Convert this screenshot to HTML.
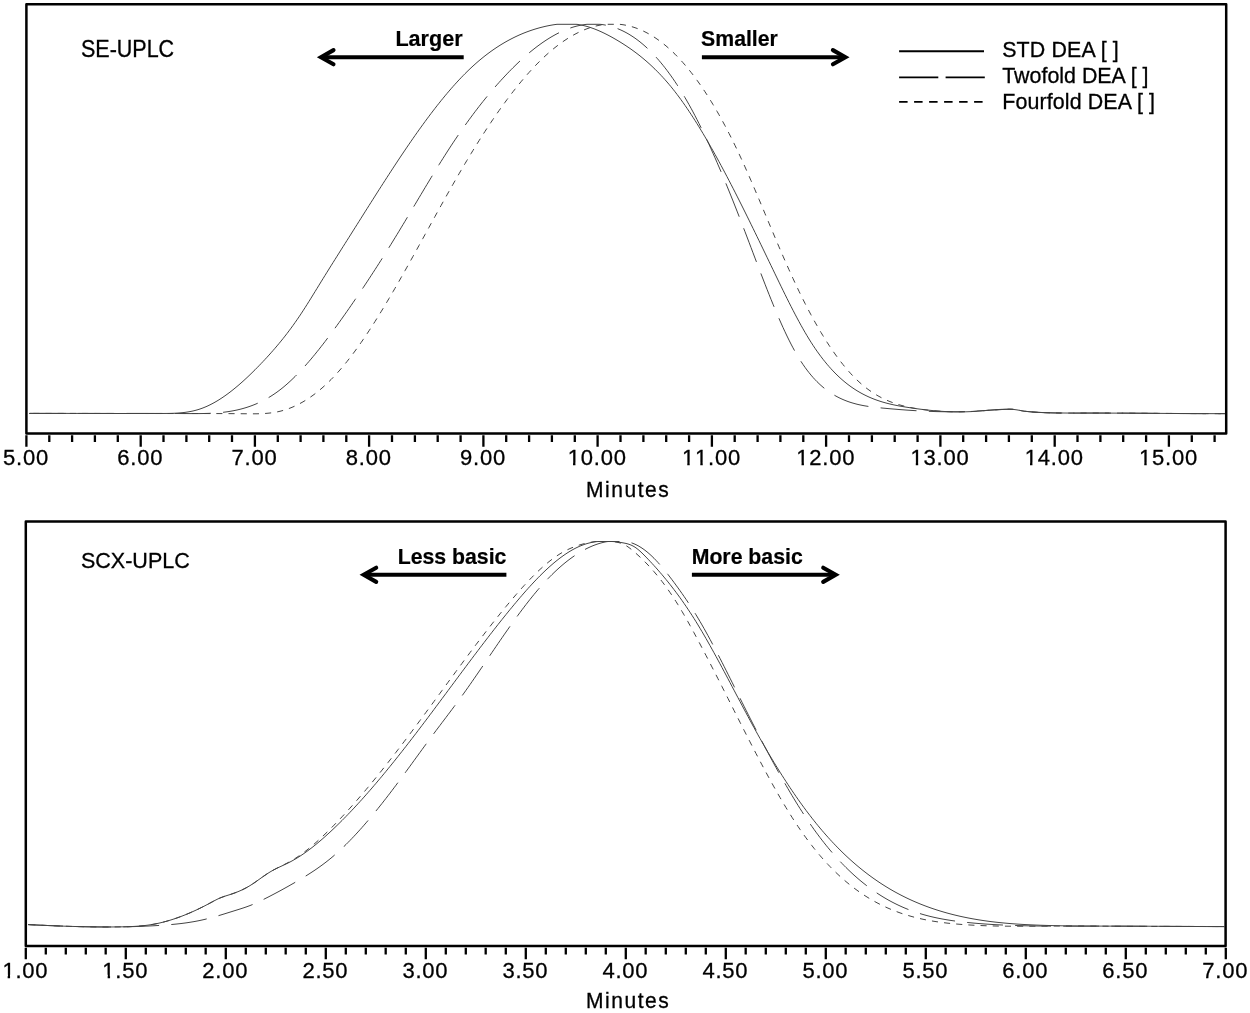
<!DOCTYPE html>
<html lang="en">
<head>
<meta charset="utf-8">
<title>SE-UPLC and SCX-UPLC chromatograms</title>
<style>
html,body{margin:0;padding:0;background:#fff}
body{width:1250px;height:1013px;overflow:hidden}
svg{display:block}
</style>
</head>
<body>
<svg width="1250" height="1013" viewBox="0 0 1250 1013">
<style>
text{font-family:"Liberation Sans",sans-serif;fill:#000}
.box{fill:none;stroke:#000;stroke-width:2.5;stroke-linejoin:round}
.tk{fill:none;stroke:#000;stroke-width:2.3}
.tl text{font-size:22px;font-kerning:none;text-anchor:middle;letter-spacing:.8px;stroke:#000;stroke-width:.3px}
.ax{font-size:21px;text-anchor:middle;letter-spacing:1.55px;stroke:#000;stroke-width:.3px}
.lb{font-size:21.5px;stroke:#000;stroke-width:.3px}
.lg{font-size:21.4px;stroke:#000;stroke-width:.3px;letter-spacing:.12px}
.b{font-size:21.6px;font-weight:bold;stroke:#000;stroke-width:.2px}
.b2{font-size:21.25px}
.c{fill:none;stroke:#444;stroke-width:1}
.ll{fill:none;stroke:#000;stroke-width:1.9}
.ar{fill:none;stroke:#000;stroke-width:4.1}
.ah{fill:none;stroke:#000;stroke-width:4.1;stroke-linecap:round;stroke-linejoin:miter}
</style>
<rect width="1250" height="1013" fill="#fff"/>
<g id="top">
<rect class="box" x="26.4" y="4.3" width="1199.8" height="429.2"/>
<path class="tk" d="M26.4 435.3V446.7M140.7 435.3V446.7M254.9 435.3V446.7M369.1 435.3V446.7M483.4 435.3V446.7M597.6 435.3V446.7M711.9 435.3V446.7M826.1 435.3V446.7M940.4 435.3V446.7M1054.7 435.3V446.7M1168.9 435.3V446.7"/>
<path class="tk" d="M49.3 435.3V442M72.1 435.3V442M94.9 435.3V442M117.8 435.3V442M163.5 435.3V442M186.4 435.3V442M209.2 435.3V442M232.0 435.3V442M277.8 435.3V442M300.6 435.3V442M323.4 435.3V442M346.3 435.3V442M392.0 435.3V442M414.9 435.3V442M437.7 435.3V442M460.6 435.3V442M506.2 435.3V442M529.1 435.3V442M551.9 435.3V442M574.8 435.3V442M620.5 435.3V442M643.4 435.3V442M666.2 435.3V442M689.1 435.3V442M734.7 435.3V442M757.6 435.3V442M780.4 435.3V442M803.3 435.3V442M849.0 435.3V442M871.9 435.3V442M894.7 435.3V442M917.6 435.3V442M963.2 435.3V442M986.1 435.3V442M1008.9 435.3V442M1031.8 435.3V442M1077.5 435.3V442M1100.4 435.3V442M1123.2 435.3V442M1146.1 435.3V442M1191.8 435.3V442M1214.6 435.3V442"/>
<g class="tl"><text transform="translate(26.0 465.4) scale(1 1.04)">5.00</text><text transform="translate(140.2 465.4) scale(1 1.04)">6.00</text><text transform="translate(254.5 465.4) scale(1 1.04)">7.00</text><text transform="translate(368.8 465.4) scale(1 1.04)">8.00</text><text transform="translate(483.0 465.4) scale(1 1.04)">9.00</text><text transform="translate(597.2 465.4) scale(1 1.04)">10.00</text><text transform="translate(711.5 465.4) scale(1 1.04)">11.00</text><text transform="translate(825.8 465.4) scale(1 1.04)">12.00</text><text transform="translate(940.0 465.4) scale(1 1.04)">13.00</text><text transform="translate(1054.2 465.4) scale(1 1.04)">14.00</text><text transform="translate(1168.5 465.4) scale(1 1.04)">15.00</text></g>
<path fill="#fff" d="M567.92 462.70H573.02V467.80H567.92ZM575.44 462.70H580.12V467.80H575.44ZM682.17 462.70H687.27V467.80H682.17ZM689.69 462.70H694.37V467.80H689.69ZM695.21 462.70H700.31V467.80H695.21ZM702.73 462.70H707.41V467.80H702.73ZM796.42 462.70H801.52V467.80H796.42ZM803.94 462.70H808.62V467.80H803.94ZM910.67 462.70H915.77V467.80H910.67ZM918.19 462.70H922.87V467.80H918.19ZM1024.92 462.70H1030.02V467.80H1024.92ZM1032.44 462.70H1037.12V467.80H1032.44ZM1139.17 462.70H1144.27V467.80H1139.17ZM1146.69 462.70H1151.37V467.80H1146.69Z"/>
<text class="ax" transform="translate(628.2 497.3) scale(1 1.04)">Minutes</text>
<path class="c" d="M29.0 413.43 L31.0 413.42 L33.0 413.42 L35.0 413.41 L37.0 413.41 L39.0 413.41 L41.0 413.40 L43.0 413.40 L45.0 413.40 L47.0 413.40 L49.0 413.40 L51.0 413.39 L53.0 413.39 L55.0 413.39 L57.0 413.40 L59.0 413.40 L61.0 413.40 L63.0 413.40 L65.0 413.40 L67.0 413.40 L69.0 413.41 L71.0 413.41 L73.0 413.41 L75.0 413.41 L77.0 413.42 L79.0 413.42 L81.0 413.43 L83.0 413.43 L85.0 413.43 L87.0 413.44 L89.0 413.44 L91.0 413.45 L93.0 413.45 L95.0 413.45 L97.0 413.46 L99.0 413.46 L101.0 413.47 L103.0 413.47 L105.0 413.47 L107.0 413.48 L109.0 413.48 L111.0 413.49 L113.0 413.49 L115.0 413.49 L117.0 413.50 L119.0 413.50 L121.0 413.50 L123.0 413.50 L125.0 413.51 L127.0 413.51 L129.0 413.51 L131.0 413.51 L133.0 413.51 L135.0 413.51 L137.0 413.51 L139.0 413.51 L141.0 413.51 L143.0 413.51 L145.0 413.51 L147.0 413.51 L149.0 413.51 L151.0 413.50 L153.0 413.50 L155.0 413.50 L157.0 413.49 L159.0 413.49 L161.0 413.48 L163.0 413.47 L165.0 413.46 L167.0 413.44 L169.0 413.41 L171.0 413.37 L173.0 413.31 L175.0 413.23 L177.0 413.12 L179.0 412.98 L181.0 412.81 L183.0 412.61 L185.0 412.37 L187.0 412.09 L189.0 411.76 L191.0 411.39 L193.0 410.96 L195.0 410.47 L197.0 409.93 L199.0 409.33 L201.0 408.65 L203.0 407.92 L205.0 407.11 L207.0 406.25 L209.0 405.32 L211.0 404.32 L213.0 403.27 L215.0 402.16 L217.0 401.00 L219.0 399.77 L221.0 398.49 L223.0 397.16 L225.0 395.78 L227.0 394.35 L229.0 392.87 L231.0 391.34 L233.0 389.76 L235.0 388.14 L237.0 386.48 L239.0 384.78 L241.0 383.03 L243.0 381.25 L245.0 379.42 L247.0 377.57 L249.0 375.67 L251.0 373.74 L253.0 371.78 L255.0 369.79 L257.0 367.77 L259.0 365.72 L261.0 363.65 L263.0 361.55 L265.0 359.42 L267.0 357.25 L269.0 355.06 L271.0 352.83 L273.0 350.56 L275.0 348.26 L277.0 345.91 L279.0 343.52 L281.0 341.09 L283.0 338.61 L285.0 336.08 L287.0 333.50 L289.0 330.87 L291.0 328.18 L293.0 325.44 L295.0 322.64 L297.0 319.77 L299.0 316.85 L301.0 313.86 L303.0 310.81 L305.0 307.71 L307.0 304.56 L309.0 301.37 L311.0 298.16 L313.0 294.92 L315.0 291.67 L317.0 288.41 L319.0 285.15 L321.0 281.90 L323.0 278.66 L325.0 275.43 L327.0 272.21 L329.0 269.01 L331.0 265.81 L333.0 262.62 L335.0 259.43 L337.0 256.25 L339.0 253.08 L341.0 249.91 L343.0 246.74 L345.0 243.58 L347.0 240.41 L349.0 237.25 L351.0 234.09 L353.0 230.92 L355.0 227.75 L357.0 224.58 L359.0 221.41 L361.0 218.24 L363.0 215.06 L365.0 211.89 L367.0 208.73 L369.0 205.56 L371.0 202.40 L373.0 199.24 L375.0 196.09 L377.0 192.95 L379.0 189.81 L381.0 186.69 L383.0 183.57 L385.0 180.46 L387.0 177.36 L389.0 174.27 L391.0 171.19 L393.0 168.13 L395.0 165.08 L397.0 162.05 L399.0 159.03 L401.0 156.03 L403.0 153.05 L405.0 150.08 L407.0 147.14 L409.0 144.21 L411.0 141.30 L413.0 138.42 L415.0 135.56 L417.0 132.72 L419.0 129.90 L421.0 127.11 L423.0 124.35 L425.0 121.61 L427.0 118.90 L429.0 116.21 L431.0 113.56 L433.0 110.94 L435.0 108.34 L437.0 105.78 L439.0 103.25 L441.0 100.76 L443.0 98.29 L445.0 95.87 L447.0 93.48 L449.0 91.12 L451.0 88.80 L453.0 86.52 L455.0 84.28 L457.0 82.08 L459.0 79.92 L461.0 77.80 L463.0 75.73 L465.0 73.70 L467.0 71.71 L469.0 69.76 L471.0 67.87 L473.0 66.01 L475.0 64.21 L477.0 62.44 L479.0 60.73 L481.0 59.06 L483.0 57.43 L485.0 55.84 L487.0 54.30 L489.0 52.80 L491.0 51.34 L493.0 49.93 L495.0 48.55 L497.0 47.22 L499.0 45.93 L501.0 44.67 L503.0 43.46 L505.0 42.29 L507.0 41.15 L509.0 40.06 L511.0 39.00 L513.0 37.98 L515.0 36.99 L517.0 36.05 L519.0 35.14 L521.0 34.26 L523.0 33.42 L525.0 32.62 L527.0 31.85 L529.0 31.12 L531.0 30.42 L533.0 29.75 L535.0 29.12 L537.0 28.52 L539.0 27.95 L541.0 27.41 L543.0 26.91 L545.0 26.43 L547.0 25.99 L549.0 25.58 L551.0 25.21 L553.0 24.87 L555.0 24.57 L557.0 24.31 L559.0 24.30 L561.0 24.30 L563.0 24.30 L565.0 24.30 L567.0 24.30 L569.0 24.30 L571.0 24.30 L573.0 24.30 L575.0 24.30 L577.0 24.34 L579.0 24.65 L581.0 25.01 L583.0 25.43 L585.0 25.92 L587.0 26.46 L589.0 27.06 L591.0 27.71 L593.0 28.41 L595.0 29.16 L597.0 29.96 L599.0 30.81 L601.0 31.70 L603.0 32.63 L605.0 33.60 L607.0 34.61 L609.0 35.65 L611.0 36.73 L613.0 37.84 L615.0 38.98 L617.0 40.15 L619.0 41.35 L621.0 42.57 L623.0 43.83 L625.0 45.12 L627.0 46.44 L629.0 47.79 L631.0 49.18 L633.0 50.61 L635.0 52.08 L637.0 53.59 L639.0 55.14 L641.0 56.73 L643.0 58.37 L645.0 60.05 L647.0 61.78 L649.0 63.56 L651.0 65.39 L653.0 67.27 L655.0 69.20 L657.0 71.19 L659.0 73.23 L661.0 75.33 L663.0 77.49 L665.0 79.71 L667.0 81.99 L669.0 84.33 L671.0 86.73 L673.0 89.20 L675.0 91.74 L677.0 94.34 L679.0 97.00 L681.0 99.73 L683.0 102.52 L685.0 105.37 L687.0 108.28 L689.0 111.24 L691.0 114.26 L693.0 117.34 L695.0 120.47 L697.0 123.65 L699.0 126.88 L701.0 130.16 L703.0 133.48 L705.0 136.86 L707.0 140.28 L709.0 143.74 L711.0 147.25 L713.0 150.79 L715.0 154.38 L717.0 158.01 L719.0 161.67 L721.0 165.37 L723.0 169.10 L725.0 172.86 L727.0 176.66 L729.0 180.49 L731.0 184.35 L733.0 188.23 L735.0 192.14 L737.0 196.08 L739.0 200.04 L741.0 204.02 L743.0 208.02 L745.0 212.04 L747.0 216.08 L749.0 220.14 L751.0 224.22 L753.0 228.30 L755.0 232.40 L757.0 236.52 L759.0 240.64 L761.0 244.77 L763.0 248.91 L765.0 253.06 L767.0 257.21 L769.0 261.36 L771.0 265.52 L773.0 269.67 L775.0 273.83 L777.0 277.98 L779.0 282.12 L781.0 286.24 L783.0 290.34 L785.0 294.41 L787.0 298.44 L789.0 302.44 L791.0 306.39 L793.0 310.29 L795.0 314.14 L797.0 317.92 L799.0 321.64 L801.0 325.28 L803.0 328.84 L805.0 332.32 L807.0 335.71 L809.0 339.01 L811.0 342.20 L813.0 345.29 L815.0 348.29 L817.0 351.18 L819.0 353.97 L821.0 356.67 L823.0 359.27 L825.0 361.78 L827.0 364.20 L829.0 366.53 L831.0 368.77 L833.0 370.93 L835.0 373.00 L837.0 374.99 L839.0 376.90 L841.0 378.73 L843.0 380.48 L845.0 382.16 L847.0 383.76 L849.0 385.29 L851.0 386.75 L853.0 388.14 L855.0 389.46 L857.0 390.72 L859.0 391.92 L861.0 393.05 L863.0 394.13 L865.0 395.15 L867.0 396.12 L869.0 397.04 L871.0 397.90 L873.0 398.72 L875.0 399.49 L877.0 400.22 L879.0 400.90 L881.0 401.55 L883.0 402.16 L885.0 402.73 L887.0 403.27 L889.0 403.78 L891.0 404.26 L893.0 404.71 L895.0 405.14 L897.0 405.54 L899.0 405.92 L901.0 406.29 L903.0 406.63 L905.0 406.96 L907.0 407.28 L909.0 407.59 L911.0 407.89 L913.0 408.19 L915.0 408.47 L917.0 408.75 L919.0 409.02 L921.0 409.27 L923.0 409.52 L925.0 409.76 L927.0 409.99 L929.0 410.21 L931.0 410.41 L933.0 410.61 L935.0 410.79 L937.0 410.96 L939.0 411.12 L941.0 411.27 L943.0 411.40 L945.0 411.52 L947.0 411.62 L949.0 411.71 L951.0 411.78 L953.0 411.84 L955.0 411.88 L957.0 411.91 L959.0 411.92 L961.0 411.91 L963.0 411.89 L965.0 411.84 L967.0 411.78 L969.0 411.70 L971.0 411.61 L973.0 411.49 L975.0 411.36 L977.0 411.21 L979.0 411.06 L981.0 410.90 L983.0 410.73 L985.0 410.56 L987.0 410.39 L989.0 410.22 L991.0 410.05 L993.0 409.90 L995.0 409.75 L997.0 409.61 L999.0 409.49 L1001.0 409.39 L1003.0 409.30 L1005.0 409.24 L1007.0 409.20 L1009.0 409.21 L1011.0 409.26 L1013.0 409.39 L1015.0 409.61 L1017.0 409.90 L1019.0 410.24 L1021.0 410.60 L1023.0 410.95 L1025.0 411.25 L1027.0 411.51 L1029.0 411.72 L1031.0 411.90 L1033.0 412.06 L1035.0 412.18 L1037.0 412.29 L1039.0 412.38 L1041.0 412.46 L1043.0 412.54 L1045.0 412.61 L1047.0 412.68 L1049.0 412.73 L1051.0 412.79 L1053.0 412.83 L1055.0 412.88 L1057.0 412.91 L1059.0 412.95 L1061.0 412.97 L1063.0 413.00 L1065.0 413.02 L1067.0 413.04 L1069.0 413.05 L1071.0 413.07 L1073.0 413.07 L1075.0 413.08 L1077.0 413.09 L1079.0 413.09 L1081.0 413.09 L1083.0 413.09 L1085.0 413.09 L1087.0 413.09 L1089.0 413.09 L1091.0 413.09 L1093.0 413.09 L1095.0 413.09 L1097.0 413.09 L1099.0 413.09 L1101.0 413.09 L1103.0 413.09 L1105.0 413.10 L1107.0 413.10 L1109.0 413.10 L1111.0 413.11 L1113.0 413.12 L1115.0 413.12 L1117.0 413.13 L1119.0 413.14 L1121.0 413.15 L1123.0 413.15 L1125.0 413.16 L1127.0 413.17 L1129.0 413.18 L1131.0 413.19 L1133.0 413.21 L1135.0 413.22 L1137.0 413.23 L1139.0 413.24 L1141.0 413.25 L1143.0 413.27 L1145.0 413.28 L1147.0 413.29 L1149.0 413.30 L1151.0 413.32 L1153.0 413.33 L1155.0 413.35 L1157.0 413.36 L1159.0 413.37 L1161.0 413.39 L1163.0 413.40 L1165.0 413.41 L1167.0 413.43 L1169.0 413.44 L1171.0 413.45 L1173.0 413.47 L1175.0 413.48 L1177.0 413.49 L1179.0 413.50 L1181.0 413.52 L1183.0 413.53 L1185.0 413.54 L1187.0 413.55 L1189.0 413.56 L1191.0 413.57 L1193.0 413.58 L1195.0 413.59 L1197.0 413.60 L1199.0 413.61 L1201.0 413.62 L1203.0 413.62 L1205.0 413.63 L1207.0 413.64 L1209.0 413.64 L1211.0 413.65 L1213.0 413.65 L1215.0 413.66 L1217.0 413.66 L1219.0 413.66 L1221.0 413.66 L1223.0 413.66 L1225.0 413.66"/>
<path class="c" stroke-dasharray="36.0 12.3" stroke-dashoffset="47.4" d="M29.0 413.36 L31.0 413.37 L33.0 413.38 L35.0 413.39 L37.0 413.40 L39.0 413.40 L41.0 413.41 L43.0 413.42 L45.0 413.42 L47.0 413.43 L49.0 413.43 L51.0 413.44 L53.0 413.44 L55.0 413.44 L57.0 413.45 L59.0 413.45 L61.0 413.45 L63.0 413.45 L65.0 413.45 L67.0 413.45 L69.0 413.46 L71.0 413.46 L73.0 413.46 L75.0 413.46 L77.0 413.46 L79.0 413.46 L81.0 413.45 L83.0 413.45 L85.0 413.45 L87.0 413.45 L89.0 413.45 L91.0 413.45 L93.0 413.45 L95.0 413.44 L97.0 413.44 L99.0 413.44 L101.0 413.44 L103.0 413.44 L105.0 413.44 L107.0 413.43 L109.0 413.43 L111.0 413.43 L113.0 413.43 L115.0 413.43 L117.0 413.43 L119.0 413.42 L121.0 413.42 L123.0 413.42 L125.0 413.42 L127.0 413.42 L129.0 413.42 L131.0 413.42 L133.0 413.42 L135.0 413.42 L137.0 413.42 L139.0 413.42 L141.0 413.42 L143.0 413.42 L145.0 413.42 L147.0 413.42 L149.0 413.43 L151.0 413.43 L153.0 413.43 L155.0 413.44 L157.0 413.44 L159.0 413.44 L161.0 413.45 L163.0 413.46 L165.0 413.46 L167.0 413.47 L169.0 413.47 L171.0 413.48 L173.0 413.49 L175.0 413.50 L177.0 413.51 L179.0 413.52 L181.0 413.53 L183.0 413.54 L185.0 413.55 L187.0 413.56 L189.0 413.58 L191.0 413.59 L193.0 413.59 L195.0 413.59 L197.0 413.59 L199.0 413.58 L201.0 413.55 L203.0 413.52 L205.0 413.48 L207.0 413.42 L209.0 413.35 L211.0 413.26 L213.0 413.15 L215.0 413.03 L217.0 412.88 L219.0 412.71 L221.0 412.52 L223.0 412.31 L225.0 412.07 L227.0 411.80 L229.0 411.50 L231.0 411.17 L233.0 410.81 L235.0 410.42 L237.0 410.00 L239.0 409.53 L241.0 409.04 L243.0 408.50 L245.0 407.92 L247.0 407.30 L249.0 406.64 L251.0 405.93 L253.0 405.18 L255.0 404.38 L257.0 403.53 L259.0 402.63 L261.0 401.69 L263.0 400.69 L265.0 399.63 L267.0 398.52 L269.0 397.35 L271.0 396.13 L273.0 394.84 L275.0 393.49 L277.0 392.08 L279.0 390.61 L281.0 389.07 L283.0 387.47 L285.0 385.80 L287.0 384.07 L289.0 382.28 L291.0 380.44 L293.0 378.53 L295.0 376.57 L297.0 374.56 L299.0 372.49 L301.0 370.37 L303.0 368.20 L305.0 365.99 L307.0 363.73 L309.0 361.42 L311.0 359.08 L313.0 356.69 L315.0 354.26 L317.0 351.79 L319.0 349.29 L321.0 346.75 L323.0 344.18 L325.0 341.58 L327.0 338.95 L329.0 336.29 L331.0 333.60 L333.0 330.89 L335.0 328.16 L337.0 325.40 L339.0 322.62 L341.0 319.83 L343.0 317.01 L345.0 314.18 L347.0 311.33 L349.0 308.47 L351.0 305.58 L353.0 302.68 L355.0 299.76 L357.0 296.82 L359.0 293.87 L361.0 290.90 L363.0 287.91 L365.0 284.90 L367.0 281.88 L369.0 278.84 L371.0 275.78 L373.0 272.70 L375.0 269.61 L377.0 266.50 L379.0 263.38 L381.0 260.24 L383.0 257.08 L385.0 253.90 L387.0 250.71 L389.0 247.50 L391.0 244.27 L393.0 241.03 L395.0 237.78 L397.0 234.50 L399.0 231.21 L401.0 227.90 L403.0 224.58 L405.0 221.25 L407.0 217.91 L409.0 214.57 L411.0 211.21 L413.0 207.85 L415.0 204.50 L417.0 201.14 L419.0 197.78 L421.0 194.43 L423.0 191.08 L425.0 187.74 L427.0 184.41 L429.0 181.09 L431.0 177.79 L433.0 174.50 L435.0 171.22 L437.0 167.97 L439.0 164.74 L441.0 161.53 L443.0 158.35 L445.0 155.19 L447.0 152.06 L449.0 148.96 L451.0 145.90 L453.0 142.87 L455.0 139.87 L457.0 136.91 L459.0 133.98 L461.0 131.08 L463.0 128.22 L465.0 125.39 L467.0 122.60 L469.0 119.84 L471.0 117.11 L473.0 114.42 L475.0 111.76 L477.0 109.13 L479.0 106.54 L481.0 103.98 L483.0 101.46 L485.0 98.97 L487.0 96.52 L489.0 94.10 L491.0 91.71 L493.0 89.36 L495.0 87.04 L497.0 84.76 L499.0 82.51 L501.0 80.29 L503.0 78.11 L505.0 75.97 L507.0 73.86 L509.0 71.78 L511.0 69.74 L513.0 67.73 L515.0 65.76 L517.0 63.82 L519.0 61.92 L521.0 60.06 L523.0 58.24 L525.0 56.45 L527.0 54.71 L529.0 53.00 L531.0 51.34 L533.0 49.72 L535.0 48.14 L537.0 46.60 L539.0 45.11 L541.0 43.67 L543.0 42.26 L545.0 40.91 L547.0 39.60 L549.0 38.34 L551.0 37.12 L553.0 35.96 L555.0 34.84 L557.0 33.78 L559.0 32.76 L561.0 31.80 L563.0 30.89 L565.0 30.03 L567.0 29.23 L569.0 28.48 L571.0 27.78 L573.0 27.14 L575.0 26.56 L577.0 26.03 L579.0 25.57 L581.0 25.16 L583.0 24.81 L585.0 24.52 L587.0 24.30 L589.0 24.30 L591.0 24.30 L593.0 24.30 L595.0 24.30 L597.0 24.30 L599.0 24.30 L601.0 24.40 L603.0 24.67 L605.0 25.01 L607.0 25.41 L609.0 25.87 L611.0 26.40 L613.0 27.00 L615.0 27.67 L617.0 28.41 L619.0 29.21 L621.0 30.08 L623.0 31.02 L625.0 32.04 L627.0 33.12 L629.0 34.27 L631.0 35.50 L633.0 36.80 L635.0 38.17 L637.0 39.61 L639.0 41.13 L641.0 42.72 L643.0 44.39 L645.0 46.13 L647.0 47.95 L649.0 49.84 L651.0 51.82 L653.0 53.87 L655.0 55.99 L657.0 58.20 L659.0 60.48 L661.0 62.85 L663.0 65.29 L665.0 67.82 L667.0 70.42 L669.0 73.11 L671.0 75.88 L673.0 78.73 L675.0 81.67 L677.0 84.69 L679.0 87.79 L681.0 90.98 L683.0 94.25 L685.0 97.61 L687.0 101.06 L689.0 104.59 L691.0 108.21 L693.0 111.92 L695.0 115.71 L697.0 119.58 L699.0 123.54 L701.0 127.57 L703.0 131.67 L705.0 135.85 L707.0 140.11 L709.0 144.43 L711.0 148.82 L713.0 153.27 L715.0 157.79 L717.0 162.37 L719.0 167.01 L721.0 171.70 L723.0 176.45 L725.0 181.25 L727.0 186.11 L729.0 191.01 L731.0 195.96 L733.0 200.95 L735.0 205.99 L737.0 211.07 L739.0 216.18 L741.0 221.33 L743.0 226.52 L745.0 231.73 L747.0 236.98 L749.0 242.24 L751.0 247.52 L753.0 252.80 L755.0 258.08 L757.0 263.34 L759.0 268.59 L761.0 273.82 L763.0 279.01 L765.0 284.16 L767.0 289.27 L769.0 294.31 L771.0 299.30 L773.0 304.21 L775.0 309.05 L777.0 313.80 L779.0 318.46 L781.0 323.02 L783.0 327.47 L785.0 331.81 L787.0 336.02 L789.0 340.10 L791.0 344.05 L793.0 347.84 L795.0 351.49 L797.0 354.98 L799.0 358.30 L801.0 361.47 L803.0 364.48 L805.0 367.34 L807.0 370.07 L809.0 372.65 L811.0 375.09 L813.0 377.41 L815.0 379.60 L817.0 381.67 L819.0 383.62 L821.0 385.46 L823.0 387.19 L825.0 388.82 L827.0 390.35 L829.0 391.79 L831.0 393.13 L833.0 394.39 L835.0 395.57 L837.0 396.67 L839.0 397.70 L841.0 398.66 L843.0 399.56 L845.0 400.39 L847.0 401.16 L849.0 401.88 L851.0 402.54 L853.0 403.14 L855.0 403.70 L857.0 404.22 L859.0 404.69 L861.0 405.12 L863.0 405.52 L865.0 405.88 L867.0 406.21 L869.0 406.52 L871.0 406.80 L873.0 407.05 L875.0 407.29 L877.0 407.51 L879.0 407.72 L881.0 407.92 L883.0 408.11 L885.0 408.29 L887.0 408.48 L889.0 408.66 L891.0 408.83 L893.0 409.01 L895.0 409.17 L897.0 409.34 L899.0 409.50 L901.0 409.66 L903.0 409.81 L905.0 409.96 L907.0 410.11 L909.0 410.24 L911.0 410.38 L913.0 410.51 L915.0 410.63 L917.0 410.75 L919.0 410.86 L921.0 410.97 L923.0 411.07 L925.0 411.17 L927.0 411.26 L929.0 411.34 L931.0 411.42 L933.0 411.49 L935.0 411.55 L937.0 411.61 L939.0 411.65 L941.0 411.70 L943.0 411.73 L945.0 411.76 L947.0 411.77 L949.0 411.78 L951.0 411.79 L953.0 411.78 L955.0 411.77 L957.0 411.74 L959.0 411.71 L961.0 411.67 L963.0 411.62 L965.0 411.56 L967.0 411.49 L969.0 411.41 L971.0 411.32 L973.0 411.23 L975.0 411.12 L977.0 411.01 L979.0 410.89 L981.0 410.77 L983.0 410.64 L985.0 410.52 L987.0 410.39 L989.0 410.26 L991.0 410.13 L993.0 410.01 L995.0 409.89 L997.0 409.78 L999.0 409.67 L1001.0 409.57 L1003.0 409.48 L1005.0 409.40 L1007.0 409.33 L1009.0 409.29 L1011.0 409.30 L1013.0 409.38 L1015.0 409.53 L1017.0 409.79 L1019.0 410.16 L1021.0 410.56 L1023.0 410.94 L1025.0 411.22 L1027.0 411.44 L1029.0 411.63 L1031.0 411.81 L1033.0 411.98 L1035.0 412.13 L1037.0 412.27 L1039.0 412.39 L1041.0 412.50 L1043.0 412.61 L1045.0 412.69 L1047.0 412.77 L1049.0 412.84 L1051.0 412.90 L1053.0 412.95 L1055.0 412.99 L1057.0 413.03 L1059.0 413.06 L1061.0 413.08 L1063.0 413.09 L1065.0 413.10 L1067.0 413.11 L1069.0 413.11 L1071.0 413.11 L1073.0 413.11 L1075.0 413.10 L1077.0 413.09 L1079.0 413.09 L1081.0 413.08 L1083.0 413.07 L1085.0 413.06 L1087.0 413.06 L1089.0 413.05 L1091.0 413.05 L1093.0 413.05 L1095.0 413.05 L1097.0 413.05 L1099.0 413.05 L1101.0 413.05 L1103.0 413.05 L1105.0 413.06 L1107.0 413.06 L1109.0 413.07 L1111.0 413.07 L1113.0 413.08 L1115.0 413.09 L1117.0 413.10 L1119.0 413.11 L1121.0 413.12 L1123.0 413.13 L1125.0 413.14 L1127.0 413.15 L1129.0 413.16 L1131.0 413.17 L1133.0 413.19 L1135.0 413.20 L1137.0 413.21 L1139.0 413.23 L1141.0 413.24 L1143.0 413.26 L1145.0 413.27 L1147.0 413.29 L1149.0 413.30 L1151.0 413.32 L1153.0 413.33 L1155.0 413.35 L1157.0 413.37 L1159.0 413.38 L1161.0 413.40 L1163.0 413.41 L1165.0 413.43 L1167.0 413.44 L1169.0 413.46 L1171.0 413.47 L1173.0 413.48 L1175.0 413.50 L1177.0 413.51 L1179.0 413.53 L1181.0 413.54 L1183.0 413.55 L1185.0 413.56 L1187.0 413.57 L1189.0 413.58 L1191.0 413.59 L1193.0 413.60 L1195.0 413.61 L1197.0 413.62 L1199.0 413.63 L1201.0 413.63 L1203.0 413.64 L1205.0 413.64 L1207.0 413.65 L1209.0 413.65 L1211.0 413.65 L1213.0 413.65 L1215.0 413.65 L1217.0 413.65 L1219.0 413.65 L1221.0 413.65 L1223.0 413.64 L1225.0 413.64"/>
<path class="c" stroke-dasharray="6.1 6.1" stroke-dashoffset="7.9" d="M29.0 413.41 L31.0 413.41 L33.0 413.41 L35.0 413.41 L37.0 413.41 L39.0 413.41 L41.0 413.41 L43.0 413.41 L45.0 413.41 L47.0 413.41 L49.0 413.41 L51.0 413.41 L53.0 413.42 L55.0 413.42 L57.0 413.42 L59.0 413.42 L61.0 413.42 L63.0 413.42 L65.0 413.43 L67.0 413.43 L69.0 413.43 L71.0 413.43 L73.0 413.43 L75.0 413.44 L77.0 413.44 L79.0 413.44 L81.0 413.44 L83.0 413.44 L85.0 413.45 L87.0 413.45 L89.0 413.45 L91.0 413.45 L93.0 413.46 L95.0 413.46 L97.0 413.46 L99.0 413.46 L101.0 413.47 L103.0 413.47 L105.0 413.47 L107.0 413.47 L109.0 413.48 L111.0 413.48 L113.0 413.48 L115.0 413.48 L117.0 413.49 L119.0 413.49 L121.0 413.49 L123.0 413.49 L125.0 413.49 L127.0 413.50 L129.0 413.50 L131.0 413.50 L133.0 413.50 L135.0 413.51 L137.0 413.51 L139.0 413.51 L141.0 413.51 L143.0 413.51 L145.0 413.51 L147.0 413.52 L149.0 413.52 L151.0 413.52 L153.0 413.52 L155.0 413.52 L157.0 413.52 L159.0 413.52 L161.0 413.53 L163.0 413.53 L165.0 413.53 L167.0 413.53 L169.0 413.53 L171.0 413.53 L173.0 413.53 L175.0 413.53 L177.0 413.53 L179.0 413.53 L181.0 413.53 L183.0 413.53 L185.0 413.53 L187.0 413.53 L189.0 413.53 L191.0 413.53 L193.0 413.53 L195.0 413.53 L197.0 413.53 L199.0 413.53 L201.0 413.54 L203.0 413.54 L205.0 413.54 L207.0 413.54 L209.0 413.55 L211.0 413.55 L213.0 413.56 L215.0 413.56 L217.0 413.57 L219.0 413.58 L221.0 413.59 L223.0 413.59 L225.0 413.60 L227.0 413.61 L229.0 413.63 L231.0 413.64 L233.0 413.65 L235.0 413.67 L237.0 413.68 L239.0 413.70 L241.0 413.72 L243.0 413.74 L245.0 413.76 L247.0 413.78 L249.0 413.80 L251.0 413.81 L253.0 413.82 L255.0 413.81 L257.0 413.79 L259.0 413.74 L261.0 413.68 L263.0 413.59 L265.0 413.47 L267.0 413.31 L269.0 413.12 L271.0 412.89 L273.0 412.62 L275.0 412.30 L277.0 411.93 L279.0 411.50 L281.0 411.02 L283.0 410.48 L285.0 409.88 L287.0 409.23 L289.0 408.51 L291.0 407.74 L293.0 406.90 L295.0 406.01 L297.0 405.05 L299.0 404.04 L301.0 402.96 L303.0 401.83 L305.0 400.64 L307.0 399.38 L309.0 398.07 L311.0 396.70 L313.0 395.26 L315.0 393.77 L317.0 392.21 L319.0 390.59 L321.0 388.91 L323.0 387.17 L325.0 385.37 L327.0 383.51 L329.0 381.59 L331.0 379.60 L333.0 377.55 L335.0 375.45 L337.0 373.27 L339.0 371.04 L341.0 368.75 L343.0 366.39 L345.0 363.97 L347.0 361.50 L349.0 358.96 L351.0 356.37 L353.0 353.73 L355.0 351.04 L357.0 348.29 L359.0 345.49 L361.0 342.65 L363.0 339.75 L365.0 336.81 L367.0 333.83 L369.0 330.81 L371.0 327.74 L373.0 324.63 L375.0 321.49 L377.0 318.30 L379.0 315.09 L381.0 311.83 L383.0 308.55 L385.0 305.23 L387.0 301.89 L389.0 298.51 L391.0 295.11 L393.0 291.69 L395.0 288.24 L397.0 284.77 L399.0 281.27 L401.0 277.76 L403.0 274.23 L405.0 270.68 L407.0 267.12 L409.0 263.54 L411.0 259.95 L413.0 256.35 L415.0 252.74 L417.0 249.12 L419.0 245.50 L421.0 241.87 L423.0 238.23 L425.0 234.60 L427.0 230.96 L429.0 227.33 L431.0 223.69 L433.0 220.06 L435.0 216.44 L437.0 212.82 L439.0 209.21 L441.0 205.61 L443.0 202.01 L445.0 198.44 L447.0 194.87 L449.0 191.32 L451.0 187.79 L453.0 184.27 L455.0 180.78 L457.0 177.30 L459.0 173.85 L461.0 170.42 L463.0 167.02 L465.0 163.64 L467.0 160.28 L469.0 156.96 L471.0 153.66 L473.0 150.39 L475.0 147.15 L477.0 143.93 L479.0 140.75 L481.0 137.59 L483.0 134.47 L485.0 131.38 L487.0 128.32 L489.0 125.29 L491.0 122.30 L493.0 119.34 L495.0 116.41 L497.0 113.52 L499.0 110.67 L501.0 107.85 L503.0 105.06 L505.0 102.32 L507.0 99.61 L509.0 96.94 L511.0 94.31 L513.0 91.72 L515.0 89.17 L517.0 86.66 L519.0 84.20 L521.0 81.77 L523.0 79.39 L525.0 77.05 L527.0 74.76 L529.0 72.51 L531.0 70.30 L533.0 68.14 L535.0 66.03 L537.0 63.96 L539.0 61.94 L541.0 59.97 L543.0 58.05 L545.0 56.17 L547.0 54.35 L549.0 52.58 L551.0 50.85 L553.0 49.18 L555.0 47.56 L557.0 45.99 L559.0 44.47 L561.0 43.00 L563.0 41.59 L565.0 40.22 L567.0 38.91 L569.0 37.66 L571.0 36.45 L573.0 35.30 L575.0 34.20 L577.0 33.16 L579.0 32.17 L581.0 31.24 L583.0 30.36 L585.0 29.53 L587.0 28.76 L589.0 28.05 L591.0 27.39 L593.0 26.79 L595.0 26.25 L597.0 25.76 L599.0 25.33 L601.0 24.96 L603.0 24.64 L605.0 24.39 L607.0 24.30 L609.0 24.30 L611.0 24.30 L613.0 24.30 L615.0 24.30 L617.0 24.30 L619.0 24.30 L621.0 24.46 L623.0 24.73 L625.0 25.07 L627.0 25.47 L629.0 25.93 L631.0 26.46 L633.0 27.04 L635.0 27.69 L637.0 28.40 L639.0 29.18 L641.0 30.01 L643.0 30.91 L645.0 31.88 L647.0 32.91 L649.0 34.00 L651.0 35.15 L653.0 36.38 L655.0 37.66 L657.0 39.02 L659.0 40.43 L661.0 41.92 L663.0 43.47 L665.0 45.09 L667.0 46.77 L669.0 48.52 L671.0 50.34 L673.0 52.23 L675.0 54.18 L677.0 56.21 L679.0 58.30 L681.0 60.46 L683.0 62.69 L685.0 64.98 L687.0 67.35 L689.0 69.79 L691.0 72.29 L693.0 74.87 L695.0 77.51 L697.0 80.23 L699.0 83.01 L701.0 85.87 L703.0 88.79 L705.0 91.79 L707.0 94.86 L709.0 98.00 L711.0 101.21 L713.0 104.50 L715.0 107.85 L717.0 111.28 L719.0 114.78 L721.0 118.35 L723.0 121.99 L725.0 125.71 L727.0 129.50 L729.0 133.37 L731.0 137.30 L733.0 141.32 L735.0 145.40 L737.0 149.56 L739.0 153.79 L741.0 158.10 L743.0 162.48 L745.0 166.92 L747.0 171.42 L749.0 175.97 L751.0 180.57 L753.0 185.21 L755.0 189.88 L757.0 194.59 L759.0 199.33 L761.0 204.08 L763.0 208.85 L765.0 213.63 L767.0 218.41 L769.0 223.19 L771.0 227.96 L773.0 232.72 L775.0 237.46 L777.0 242.18 L779.0 246.87 L781.0 251.52 L783.0 256.14 L785.0 260.71 L787.0 265.24 L789.0 269.72 L791.0 274.14 L793.0 278.51 L795.0 282.82 L797.0 287.07 L799.0 291.25 L801.0 295.36 L803.0 299.40 L805.0 303.37 L807.0 307.27 L809.0 311.09 L811.0 314.84 L813.0 318.51 L815.0 322.12 L817.0 325.64 L819.0 329.10 L821.0 332.48 L823.0 335.78 L825.0 339.01 L827.0 342.16 L829.0 345.23 L831.0 348.23 L833.0 351.15 L835.0 353.99 L837.0 356.75 L839.0 359.44 L841.0 362.04 L843.0 364.57 L845.0 367.02 L847.0 369.38 L849.0 371.67 L851.0 373.88 L853.0 376.00 L855.0 378.04 L857.0 380.00 L859.0 381.88 L861.0 383.67 L863.0 385.39 L865.0 387.02 L867.0 388.58 L869.0 390.06 L871.0 391.46 L873.0 392.80 L875.0 394.07 L877.0 395.27 L879.0 396.40 L881.0 397.48 L883.0 398.49 L885.0 399.45 L887.0 400.35 L889.0 401.20 L891.0 401.99 L893.0 402.74 L895.0 403.44 L897.0 404.10 L899.0 404.71 L901.0 405.28 L903.0 405.82 L905.0 406.32 L907.0 406.78 L909.0 407.22 L911.0 407.62 L913.0 408.00 L915.0 408.35 L917.0 408.69 L919.0 409.00 L921.0 409.29 L923.0 409.56 L925.0 409.82 L927.0 410.06 L929.0 410.29 L931.0 410.50 L933.0 410.69 L935.0 410.86 L937.0 411.03 L939.0 411.17 L941.0 411.30 L943.0 411.41 L945.0 411.51 L947.0 411.59 L949.0 411.66 L951.0 411.72 L953.0 411.75 L955.0 411.78 L957.0 411.79 L959.0 411.79 L961.0 411.77 L963.0 411.74 L965.0 411.69 L967.0 411.63 L969.0 411.56 L971.0 411.47 L973.0 411.38 L975.0 411.27 L977.0 411.15 L979.0 411.02 L981.0 410.89 L983.0 410.75 L985.0 410.61 L987.0 410.47 L989.0 410.32 L991.0 410.18 L993.0 410.04 L995.0 409.90 L997.0 409.76 L999.0 409.64 L1001.0 409.52 L1003.0 409.41 L1005.0 409.31 L1007.0 409.22 L1009.0 409.17 L1011.0 409.18 L1013.0 409.26 L1015.0 409.45 L1017.0 409.75 L1019.0 410.18 L1021.0 410.66 L1023.0 411.07 L1025.0 411.35 L1027.0 411.55 L1029.0 411.72 L1031.0 411.88 L1033.0 412.02 L1035.0 412.15 L1037.0 412.27 L1039.0 412.38 L1041.0 412.48 L1043.0 412.57 L1045.0 412.65 L1047.0 412.73 L1049.0 412.79 L1051.0 412.84 L1053.0 412.89 L1055.0 412.93 L1057.0 412.97 L1059.0 413.00 L1061.0 413.02 L1063.0 413.04 L1065.0 413.05 L1067.0 413.06 L1069.0 413.07 L1071.0 413.07 L1073.0 413.07 L1075.0 413.07 L1077.0 413.07 L1079.0 413.07 L1081.0 413.06 L1083.0 413.06 L1085.0 413.06 L1087.0 413.06 L1089.0 413.06 L1091.0 413.06 L1093.0 413.06 L1095.0 413.06 L1097.0 413.06 L1099.0 413.06 L1101.0 413.07 L1103.0 413.07 L1105.0 413.08 L1107.0 413.08 L1109.0 413.09 L1111.0 413.10 L1113.0 413.11 L1115.0 413.11 L1117.0 413.12 L1119.0 413.13 L1121.0 413.14 L1123.0 413.15 L1125.0 413.16 L1127.0 413.17 L1129.0 413.18 L1131.0 413.20 L1133.0 413.21 L1135.0 413.22 L1137.0 413.23 L1139.0 413.25 L1141.0 413.26 L1143.0 413.27 L1145.0 413.28 L1147.0 413.30 L1149.0 413.31 L1151.0 413.32 L1153.0 413.34 L1155.0 413.35 L1157.0 413.37 L1159.0 413.38 L1161.0 413.39 L1163.0 413.41 L1165.0 413.42 L1167.0 413.43 L1169.0 413.45 L1171.0 413.46 L1173.0 413.47 L1175.0 413.49 L1177.0 413.50 L1179.0 413.51 L1181.0 413.52 L1183.0 413.53 L1185.0 413.54 L1187.0 413.55 L1189.0 413.57 L1191.0 413.58 L1193.0 413.58 L1195.0 413.59 L1197.0 413.60 L1199.0 413.61 L1201.0 413.62 L1203.0 413.63 L1205.0 413.63 L1207.0 413.64 L1209.0 413.64 L1211.0 413.65 L1213.0 413.65 L1215.0 413.65 L1217.0 413.66 L1219.0 413.66 L1221.0 413.66 L1223.0 413.66 L1225.0 413.66"/>
<text class="lb" transform="translate(81 57) scale(1 1.08)">SE-UPLC</text>
<text class="b" transform="translate(395.4 46) scale(1 1.04)">Larger</text>
<path class="ar" d="M463.7 57.2H322.0"/><path class="ah" d="M333.5 50.1L321.0 57.2L333.5 64.3"/>
<text class="b b2" transform="translate(701.1 45.9) scale(1 1.02)">Smaller</text>
<path class="ar" d="M701.9 57.2H844.4"/><path class="ah" d="M832.9 50.1L845.4 57.2L832.9 64.3"/>
<path class="ll" d="M899.1 51.3H984"/>
<path class="ll" d="M899.1 77.4H938.3M945.6 77.4H984.8"/>
<path class="ll" stroke-dasharray="8.5 6.5" d="M899.1 101.9H983"/>
<text class="lg" transform="translate(1002.2 57.4) scale(1 1.05)">STD DEA [ ]</text>
<text class="lg" transform="translate(1002.2 83.3) scale(1 1.05)" textLength="146.4" lengthAdjust="spacing">Twofold DEA [ ]</text>
<text class="lg" transform="translate(1002.2 109.2) scale(1 1.05)">Fourfold DEA [ ]</text>
</g>
<g id="bottom">
<rect class="box" x="25.8" y="521.5" width="1199.8" height="424.45"/>
<path class="tk" d="M25.8 947.7V959.2M125.8 947.7V959.2M225.8 947.7V959.2M325.8 947.7V959.2M425.8 947.7V959.2M525.8 947.7V959.2M625.8 947.7V959.2M725.8 947.7V959.2M825.8 947.7V959.2M925.8 947.7V959.2M1025.8 947.7V959.2M1125.8 947.7V959.2M1225.8 947.7V959.2"/>
<path class="tk" d="M45.8 947.7V954.5M65.8 947.7V954.5M85.8 947.7V954.5M105.7 947.7V954.5M145.8 947.7V954.5M165.8 947.7V954.5M185.8 947.7V954.5M205.7 947.7V954.5M245.8 947.7V954.5M265.8 947.7V954.5M285.7 947.7V954.5M305.8 947.7V954.5M345.8 947.7V954.5M365.8 947.7V954.5M385.7 947.7V954.5M405.8 947.7V954.5M445.8 947.7V954.5M465.8 947.7V954.5M485.7 947.7V954.5M505.8 947.7V954.5M545.8 947.7V954.5M565.8 947.7V954.5M585.8 947.7V954.5M605.8 947.7V954.5M645.7 947.7V954.5M665.8 947.7V954.5M685.8 947.7V954.5M705.8 947.7V954.5M745.7 947.7V954.5M765.8 947.7V954.5M785.8 947.7V954.5M805.8 947.7V954.5M845.7 947.7V954.5M865.8 947.7V954.5M885.8 947.7V954.5M905.8 947.7V954.5M945.7 947.7V954.5M965.8 947.7V954.5M985.8 947.7V954.5M1005.8 947.7V954.5M1045.8 947.7V954.5M1065.8 947.7V954.5M1085.8 947.7V954.5M1105.8 947.7V954.5M1145.8 947.7V954.5M1165.8 947.7V954.5M1185.8 947.7V954.5M1205.8 947.7V954.5"/>
<g class="tl"><text transform="translate(25.4 977.5) scale(1 1.01)">1.00</text><text transform="translate(125.3 977.5) scale(1 1.01)">1.50</text><text transform="translate(225.3 977.5) scale(1 1.01)">2.00</text><text transform="translate(325.4 977.5) scale(1 1.01)">2.50</text><text transform="translate(425.4 977.5) scale(1 1.01)">3.00</text><text transform="translate(525.4 977.5) scale(1 1.01)">3.50</text><text transform="translate(625.4 977.5) scale(1 1.01)">4.00</text><text transform="translate(725.4 977.5) scale(1 1.01)">4.50</text><text transform="translate(825.4 977.5) scale(1 1.01)">5.00</text><text transform="translate(925.4 977.5) scale(1 1.01)">5.50</text><text transform="translate(1025.3 977.5) scale(1 1.01)">6.00</text><text transform="translate(1125.3 977.5) scale(1 1.01)">6.50</text><text transform="translate(1225.3 977.5) scale(1 1.01)">7.00</text></g>
<path fill="#fff" d="M2.54 974.80H7.64V979.90H2.54ZM10.06 974.80H14.74V979.90H10.06ZM102.54 974.80H107.64V979.90H102.54ZM110.06 974.80H114.74V979.90H110.06Z"/>
<text class="ax" transform="translate(628.2 1008.4) scale(1 1.02)">Minutes</text>
<path class="c" d="M28.0 924.60 L30.0 924.69 L32.0 924.79 L34.0 924.89 L36.0 924.98 L38.0 925.08 L40.0 925.17 L42.0 925.26 L44.0 925.35 L46.0 925.44 L48.0 925.53 L50.0 925.61 L52.0 925.70 L54.0 925.78 L56.0 925.86 L58.0 925.94 L60.0 926.01 L62.0 926.09 L64.0 926.16 L66.0 926.23 L68.0 926.29 L70.0 926.36 L72.0 926.42 L74.0 926.48 L76.0 926.53 L78.0 926.59 L80.0 926.64 L82.0 926.68 L84.0 926.73 L86.0 926.77 L88.0 926.81 L90.0 926.84 L92.0 926.87 L94.0 926.90 L96.0 926.92 L98.0 926.94 L100.0 926.95 L102.0 926.96 L104.0 926.97 L106.0 926.98 L108.0 926.97 L110.0 926.97 L112.0 926.96 L114.0 926.94 L116.0 926.92 L118.0 926.90 L120.0 926.87 L122.0 926.84 L124.0 926.80 L126.0 926.75 L128.0 926.69 L130.0 926.62 L132.0 926.53 L134.0 926.43 L136.0 926.31 L138.0 926.18 L140.0 926.02 L142.0 925.83 L144.0 925.63 L146.0 925.39 L148.0 925.13 L150.0 924.84 L152.0 924.51 L154.0 924.16 L156.0 923.77 L158.0 923.35 L160.0 922.91 L162.0 922.43 L164.0 921.92 L166.0 921.38 L168.0 920.82 L170.0 920.22 L172.0 919.60 L174.0 918.95 L176.0 918.28 L178.0 917.57 L180.0 916.85 L182.0 916.09 L184.0 915.31 L186.0 914.51 L188.0 913.68 L190.0 912.83 L192.0 911.95 L194.0 911.05 L196.0 910.13 L198.0 909.19 L200.0 908.22 L202.0 907.23 L204.0 906.22 L206.0 905.20 L208.0 904.15 L210.0 903.08 L212.0 901.99 L214.0 900.92 L216.0 899.88 L218.0 898.89 L220.0 898.00 L222.0 897.21 L224.0 896.50 L226.0 895.84 L228.0 895.21 L230.0 894.58 L232.0 893.92 L234.0 893.21 L236.0 892.47 L238.0 891.67 L240.0 890.82 L242.0 889.92 L244.0 888.94 L246.0 887.90 L248.0 886.79 L250.0 885.60 L252.0 884.33 L254.0 883.00 L256.0 881.61 L258.0 880.20 L260.0 878.77 L262.0 877.34 L264.0 875.93 L266.0 874.56 L268.0 873.25 L270.0 872.00 L272.0 870.84 L274.0 869.75 L276.0 868.73 L278.0 867.74 L280.0 866.79 L282.0 865.86 L284.0 864.93 L286.0 863.98 L288.0 863.01 L290.0 862.00 L292.0 860.93 L294.0 859.81 L296.0 858.64 L298.0 857.42 L300.0 856.15 L302.0 854.83 L304.0 853.46 L306.0 852.05 L308.0 850.59 L310.0 849.09 L312.0 847.56 L314.0 845.98 L316.0 844.36 L318.0 842.71 L320.0 841.02 L322.0 839.30 L324.0 837.54 L326.0 835.76 L328.0 833.95 L330.0 832.11 L332.0 830.24 L334.0 828.34 L336.0 826.42 L338.0 824.48 L340.0 822.51 L342.0 820.52 L344.0 818.50 L346.0 816.46 L348.0 814.40 L350.0 812.31 L352.0 810.20 L354.0 808.07 L356.0 805.92 L358.0 803.74 L360.0 801.55 L362.0 799.33 L364.0 797.10 L366.0 794.84 L368.0 792.57 L370.0 790.28 L372.0 787.97 L374.0 785.64 L376.0 783.29 L378.0 780.93 L380.0 778.55 L382.0 776.16 L384.0 773.74 L386.0 771.32 L388.0 768.87 L390.0 766.42 L392.0 763.94 L394.0 761.46 L396.0 758.96 L398.0 756.45 L400.0 753.92 L402.0 751.39 L404.0 748.84 L406.0 746.28 L408.0 743.71 L410.0 741.12 L412.0 738.53 L414.0 735.93 L416.0 733.32 L418.0 730.69 L420.0 728.06 L422.0 725.43 L424.0 722.78 L426.0 720.13 L428.0 717.47 L430.0 714.80 L432.0 712.13 L434.0 709.46 L436.0 706.78 L438.0 704.09 L440.0 701.40 L442.0 698.71 L444.0 696.02 L446.0 693.33 L448.0 690.63 L450.0 687.94 L452.0 685.24 L454.0 682.55 L456.0 679.86 L458.0 677.16 L460.0 674.47 L462.0 671.79 L464.0 669.11 L466.0 666.43 L468.0 663.75 L470.0 661.08 L472.0 658.42 L474.0 655.76 L476.0 653.11 L478.0 650.47 L480.0 647.83 L482.0 645.20 L484.0 642.59 L486.0 639.98 L488.0 637.38 L490.0 634.79 L492.0 632.21 L494.0 629.65 L496.0 627.10 L498.0 624.56 L500.0 622.03 L502.0 619.52 L504.0 617.02 L506.0 614.54 L508.0 612.07 L510.0 609.62 L512.0 607.19 L514.0 604.77 L516.0 602.37 L518.0 600.00 L520.0 597.65 L522.0 595.32 L524.0 593.03 L526.0 590.75 L528.0 588.51 L530.0 586.30 L532.0 584.13 L534.0 581.99 L536.0 579.88 L538.0 577.81 L540.0 575.79 L542.0 573.80 L544.0 571.86 L546.0 569.96 L548.0 568.11 L550.0 566.30 L552.0 564.55 L554.0 562.84 L556.0 561.19 L558.0 559.60 L560.0 558.06 L562.0 556.58 L564.0 555.15 L566.0 553.79 L568.0 552.49 L570.0 551.26 L572.0 550.09 L574.0 548.98 L576.0 547.95 L578.0 546.99 L580.0 546.10 L582.0 545.29 L584.0 544.55 L586.0 543.89 L588.0 543.30 L590.0 542.80 L592.0 542.36 L594.0 542.00 L596.0 541.70 L598.0 541.50 L600.0 541.50 L602.0 541.50 L604.0 541.50 L606.0 541.50 L608.0 541.50 L610.0 541.50 L612.0 541.50 L614.0 541.60 L616.0 541.82 L618.0 542.07 L620.0 542.36 L622.0 542.68 L624.0 543.04 L626.0 543.45 L628.0 543.98 L630.0 544.65 L632.0 545.50 L634.0 546.57 L636.0 547.89 L638.0 549.43 L640.0 551.15 L642.0 553.02 L644.0 555.00 L646.0 557.05 L648.0 559.13 L650.0 561.25 L652.0 563.40 L654.0 565.58 L656.0 567.80 L658.0 570.06 L660.0 572.36 L662.0 574.69 L664.0 577.07 L666.0 579.49 L668.0 581.95 L670.0 584.45 L672.0 587.01 L674.0 589.61 L676.0 592.26 L678.0 594.95 L680.0 597.70 L682.0 600.51 L684.0 603.36 L686.0 606.27 L688.0 609.24 L690.0 612.26 L692.0 615.34 L694.0 618.49 L696.0 621.69 L698.0 624.95 L700.0 628.27 L702.0 631.64 L704.0 635.05 L706.0 638.52 L708.0 642.03 L710.0 645.57 L712.0 649.16 L714.0 652.78 L716.0 656.43 L718.0 660.10 L720.0 663.81 L722.0 667.53 L724.0 671.27 L726.0 675.03 L728.0 678.80 L730.0 682.59 L732.0 686.38 L734.0 690.17 L736.0 693.96 L738.0 697.75 L740.0 701.54 L742.0 705.32 L744.0 709.08 L746.0 712.83 L748.0 716.57 L750.0 720.28 L752.0 723.97 L754.0 727.64 L756.0 731.27 L758.0 734.88 L760.0 738.44 L762.0 741.98 L764.0 745.47 L766.0 748.93 L768.0 752.36 L770.0 755.75 L772.0 759.10 L774.0 762.42 L776.0 765.70 L778.0 768.94 L780.0 772.15 L782.0 775.32 L784.0 778.45 L786.0 781.54 L788.0 784.59 L790.0 787.61 L792.0 790.58 L794.0 793.52 L796.0 796.42 L798.0 799.28 L800.0 802.10 L802.0 804.88 L804.0 807.62 L806.0 810.32 L808.0 812.97 L810.0 815.59 L812.0 818.17 L814.0 820.70 L816.0 823.20 L818.0 825.65 L820.0 828.06 L822.0 830.42 L824.0 832.75 L826.0 835.04 L828.0 837.28 L830.0 839.49 L832.0 841.66 L834.0 843.78 L836.0 845.87 L838.0 847.92 L840.0 849.94 L842.0 851.91 L844.0 853.85 L846.0 855.75 L848.0 857.61 L850.0 859.44 L852.0 861.24 L854.0 862.99 L856.0 864.72 L858.0 866.41 L860.0 868.06 L862.0 869.68 L864.0 871.27 L866.0 872.82 L868.0 874.35 L870.0 875.84 L872.0 877.30 L874.0 878.73 L876.0 880.12 L878.0 881.49 L880.0 882.83 L882.0 884.13 L884.0 885.41 L886.0 886.66 L888.0 887.88 L890.0 889.08 L892.0 890.24 L894.0 891.38 L896.0 892.49 L898.0 893.57 L900.0 894.63 L902.0 895.67 L904.0 896.67 L906.0 897.66 L908.0 898.62 L910.0 899.55 L912.0 900.46 L914.0 901.35 L916.0 902.21 L918.0 903.06 L920.0 903.88 L922.0 904.68 L924.0 905.45 L926.0 906.21 L928.0 906.95 L930.0 907.66 L932.0 908.36 L934.0 909.04 L936.0 909.69 L938.0 910.33 L940.0 910.96 L942.0 911.56 L944.0 912.15 L946.0 912.72 L948.0 913.27 L950.0 913.81 L952.0 914.33 L954.0 914.83 L956.0 915.32 L958.0 915.79 L960.0 916.25 L962.0 916.69 L964.0 917.12 L966.0 917.53 L968.0 917.93 L970.0 918.31 L972.0 918.69 L974.0 919.04 L976.0 919.39 L978.0 919.72 L980.0 920.04 L982.0 920.35 L984.0 920.65 L986.0 920.93 L988.0 921.21 L990.0 921.47 L992.0 921.72 L994.0 921.96 L996.0 922.19 L998.0 922.41 L1000.0 922.62 L1002.0 922.82 L1004.0 923.01 L1006.0 923.20 L1008.0 923.37 L1010.0 923.54 L1012.0 923.70 L1014.0 923.85 L1016.0 923.99 L1018.0 924.13 L1020.0 924.25 L1022.0 924.38 L1024.0 924.49 L1026.0 924.60 L1028.0 924.70 L1030.0 924.80 L1032.0 924.90 L1034.0 924.98 L1036.0 925.07 L1038.0 925.14 L1040.0 925.22 L1042.0 925.29 L1044.0 925.35 L1046.0 925.42 L1048.0 925.48 L1050.0 925.53 L1052.0 925.58 L1054.0 925.63 L1056.0 925.68 L1058.0 925.72 L1060.0 925.76 L1062.0 925.80 L1064.0 925.83 L1066.0 925.86 L1068.0 925.89 L1070.0 925.92 L1072.0 925.94 L1074.0 925.96 L1076.0 925.98 L1078.0 926.00 L1080.0 926.01 L1082.0 926.03 L1084.0 926.04 L1086.0 926.05 L1088.0 926.06 L1090.0 926.07 L1092.0 926.08 L1094.0 926.08 L1096.0 926.09 L1098.0 926.09 L1100.0 926.10 L1102.0 926.10 L1104.0 926.10 L1106.0 926.10 L1108.0 926.11 L1110.0 926.11 L1112.0 926.11 L1114.0 926.11 L1116.0 926.11 L1118.0 926.11 L1120.0 926.12 L1122.0 926.12 L1124.0 926.12 L1126.0 926.13 L1128.0 926.13 L1130.0 926.14 L1132.0 926.14 L1134.0 926.15 L1136.0 926.16 L1138.0 926.17 L1140.0 926.17 L1142.0 926.18 L1144.0 926.19 L1146.0 926.20 L1148.0 926.21 L1150.0 926.23 L1152.0 926.24 L1154.0 926.25 L1156.0 926.26 L1158.0 926.27 L1160.0 926.29 L1162.0 926.30 L1164.0 926.31 L1166.0 926.32 L1168.0 926.34 L1170.0 926.35 L1172.0 926.36 L1174.0 926.38 L1176.0 926.39 L1178.0 926.40 L1180.0 926.41 L1182.0 926.43 L1184.0 926.44 L1186.0 926.45 L1188.0 926.46 L1190.0 926.47 L1192.0 926.49 L1194.0 926.50 L1196.0 926.51 L1198.0 926.51 L1200.0 926.52 L1202.0 926.53 L1204.0 926.54 L1206.0 926.55 L1208.0 926.55 L1210.0 926.56 L1212.0 926.56 L1214.0 926.57 L1216.0 926.57 L1218.0 926.57 L1220.0 926.58 L1222.0 926.58 L1224.0 926.58 L1225.0 926.58"/>
<path class="c" stroke-dasharray="35.9 12.2" stroke-dashoffset="0.9" d="M28.0 924.60 L30.0 924.70 L32.0 924.80 L34.0 924.89 L36.0 924.99 L38.0 925.08 L40.0 925.18 L42.0 925.27 L44.0 925.36 L46.0 925.45 L48.0 925.53 L50.0 925.62 L52.0 925.70 L54.0 925.78 L56.0 925.86 L58.0 925.94 L60.0 926.01 L62.0 926.09 L64.0 926.16 L66.0 926.22 L68.0 926.29 L70.0 926.35 L72.0 926.41 L74.0 926.47 L76.0 926.52 L78.0 926.57 L80.0 926.62 L82.0 926.67 L84.0 926.71 L86.0 926.75 L88.0 926.79 L90.0 926.82 L92.0 926.85 L94.0 926.88 L96.0 926.90 L98.0 926.92 L100.0 926.94 L102.0 926.95 L104.0 926.96 L106.0 926.96 L108.0 926.96 L110.0 926.96 L112.0 926.95 L114.0 926.94 L116.0 926.93 L118.0 926.91 L120.0 926.88 L122.0 926.85 L124.0 926.82 L126.0 926.78 L128.0 926.74 L130.0 926.69 L132.0 926.64 L134.0 926.59 L136.0 926.52 L138.0 926.46 L140.0 926.39 L142.0 926.31 L144.0 926.23 L146.0 926.14 L148.0 926.05 L150.0 925.95 L152.0 925.85 L154.0 925.74 L156.0 925.62 L158.0 925.50 L160.0 925.38 L162.0 925.25 L164.0 925.11 L166.0 924.96 L168.0 924.81 L170.0 924.64 L172.0 924.47 L174.0 924.28 L176.0 924.09 L178.0 923.87 L180.0 923.65 L182.0 923.41 L184.0 923.15 L186.0 922.88 L188.0 922.59 L190.0 922.28 L192.0 921.95 L194.0 921.61 L196.0 921.24 L198.0 920.85 L200.0 920.44 L202.0 920.01 L204.0 919.56 L206.0 919.08 L208.0 918.59 L210.0 918.07 L212.0 917.53 L214.0 916.98 L216.0 916.41 L218.0 915.82 L220.0 915.23 L222.0 914.62 L224.0 914.00 L226.0 913.38 L228.0 912.76 L230.0 912.13 L232.0 911.50 L234.0 910.88 L236.0 910.25 L238.0 909.63 L240.0 909.00 L242.0 908.37 L244.0 907.71 L246.0 907.03 L248.0 906.31 L250.0 905.56 L252.0 904.76 L254.0 903.92 L256.0 903.03 L258.0 902.11 L260.0 901.15 L262.0 900.17 L264.0 899.18 L266.0 898.17 L268.0 897.16 L270.0 896.13 L272.0 895.09 L274.0 894.04 L276.0 892.98 L278.0 891.91 L280.0 890.83 L282.0 889.74 L284.0 888.63 L286.0 887.52 L288.0 886.41 L290.0 885.28 L292.0 884.14 L294.0 883.00 L296.0 881.84 L298.0 880.68 L300.0 879.50 L302.0 878.30 L304.0 877.09 L306.0 875.86 L308.0 874.61 L310.0 873.34 L312.0 872.04 L314.0 870.72 L316.0 869.36 L318.0 867.98 L320.0 866.56 L322.0 865.11 L324.0 863.62 L326.0 862.10 L328.0 860.53 L330.0 858.92 L332.0 857.27 L334.0 855.57 L336.0 853.83 L338.0 852.04 L340.0 850.21 L342.0 848.34 L344.0 846.42 L346.0 844.47 L348.0 842.47 L350.0 840.44 L352.0 838.37 L354.0 836.26 L356.0 834.12 L358.0 831.94 L360.0 829.73 L362.0 827.49 L364.0 825.21 L366.0 822.90 L368.0 820.56 L370.0 818.20 L372.0 815.80 L374.0 813.38 L376.0 810.93 L378.0 808.46 L380.0 805.96 L382.0 803.44 L384.0 800.89 L386.0 798.32 L388.0 795.74 L390.0 793.13 L392.0 790.50 L394.0 787.85 L396.0 785.19 L398.0 782.50 L400.0 779.81 L402.0 777.09 L404.0 774.37 L406.0 771.64 L408.0 768.89 L410.0 766.15 L412.0 763.39 L414.0 760.64 L416.0 757.88 L418.0 755.12 L420.0 752.37 L422.0 749.62 L424.0 746.88 L426.0 744.14 L428.0 741.42 L430.0 738.70 L432.0 736.00 L434.0 733.32 L436.0 730.64 L438.0 727.98 L440.0 725.33 L442.0 722.68 L444.0 720.04 L446.0 717.39 L448.0 714.74 L450.0 712.09 L452.0 709.42 L454.0 706.74 L456.0 704.04 L458.0 701.33 L460.0 698.59 L462.0 695.83 L464.0 693.05 L466.0 690.24 L468.0 687.40 L470.0 684.55 L472.0 681.68 L474.0 678.79 L476.0 675.89 L478.0 672.98 L480.0 670.06 L482.0 667.13 L484.0 664.19 L486.0 661.25 L488.0 658.30 L490.0 655.36 L492.0 652.42 L494.0 649.48 L496.0 646.54 L498.0 643.62 L500.0 640.70 L502.0 637.80 L504.0 634.90 L506.0 632.03 L508.0 629.17 L510.0 626.33 L512.0 623.51 L514.0 620.72 L516.0 617.95 L518.0 615.20 L520.0 612.49 L522.0 609.81 L524.0 607.16 L526.0 604.55 L528.0 601.97 L530.0 599.43 L532.0 596.94 L534.0 594.48 L536.0 592.07 L538.0 589.71 L540.0 587.40 L542.0 585.14 L544.0 582.92 L546.0 580.76 L548.0 578.65 L550.0 576.60 L552.0 574.59 L554.0 572.64 L556.0 570.74 L558.0 568.89 L560.0 567.10 L562.0 565.36 L564.0 563.68 L566.0 562.05 L568.0 560.48 L570.0 558.96 L572.0 557.50 L574.0 556.10 L576.0 554.76 L578.0 553.47 L580.0 552.24 L582.0 551.07 L584.0 549.96 L586.0 548.91 L588.0 547.92 L590.0 546.99 L592.0 546.12 L594.0 545.31 L596.0 544.57 L598.0 543.88 L600.0 543.26 L602.0 542.71 L604.0 542.22 L606.0 541.79 L608.0 541.50 L610.0 541.50 L612.0 541.50 L614.0 541.50 L616.0 541.50 L618.0 541.50 L620.0 541.50 L622.0 541.50 L624.0 541.50 L626.0 541.50 L628.0 541.84 L630.0 542.36 L632.0 543.00 L634.0 543.77 L636.0 544.68 L638.0 545.70 L640.0 546.86 L642.0 548.14 L644.0 549.54 L646.0 551.06 L648.0 552.69 L650.0 554.44 L652.0 556.31 L654.0 558.28 L656.0 560.35 L658.0 562.51 L660.0 564.76 L662.0 567.09 L664.0 569.50 L666.0 571.97 L668.0 574.51 L670.0 577.10 L672.0 579.74 L674.0 582.42 L676.0 585.14 L678.0 587.88 L680.0 590.67 L682.0 593.49 L684.0 596.36 L686.0 599.28 L688.0 602.25 L690.0 605.28 L692.0 608.38 L694.0 611.54 L696.0 614.78 L698.0 618.10 L700.0 621.48 L702.0 624.93 L704.0 628.45 L706.0 632.02 L708.0 635.65 L710.0 639.33 L712.0 643.06 L714.0 646.84 L716.0 650.65 L718.0 654.50 L720.0 658.39 L722.0 662.30 L724.0 666.24 L726.0 670.20 L728.0 674.18 L730.0 678.17 L732.0 682.18 L734.0 686.19 L736.0 690.20 L738.0 694.21 L740.0 698.22 L742.0 702.21 L744.0 706.20 L746.0 710.18 L748.0 714.14 L750.0 718.09 L752.0 722.02 L754.0 725.94 L756.0 729.84 L758.0 733.72 L760.0 737.58 L762.0 741.42 L764.0 745.23 L766.0 749.02 L768.0 752.79 L770.0 756.53 L772.0 760.24 L774.0 763.92 L776.0 767.57 L778.0 771.19 L780.0 774.77 L782.0 778.32 L784.0 781.83 L786.0 785.31 L788.0 788.75 L790.0 792.15 L792.0 795.51 L794.0 798.82 L796.0 802.10 L798.0 805.33 L800.0 808.51 L802.0 811.64 L804.0 814.73 L806.0 817.76 L808.0 820.75 L810.0 823.68 L812.0 826.56 L814.0 829.39 L816.0 832.16 L818.0 834.87 L820.0 837.53 L822.0 840.14 L824.0 842.70 L826.0 845.20 L828.0 847.66 L830.0 850.06 L832.0 852.41 L834.0 854.72 L836.0 856.97 L838.0 859.17 L840.0 861.33 L842.0 863.43 L844.0 865.49 L846.0 867.51 L848.0 869.47 L850.0 871.39 L852.0 873.27 L854.0 875.10 L856.0 876.89 L858.0 878.63 L860.0 880.33 L862.0 881.98 L864.0 883.59 L866.0 885.17 L868.0 886.70 L870.0 888.18 L872.0 889.63 L874.0 891.04 L876.0 892.41 L878.0 893.74 L880.0 895.03 L882.0 896.29 L884.0 897.50 L886.0 898.68 L888.0 899.83 L890.0 900.93 L892.0 902.00 L894.0 903.04 L896.0 904.04 L898.0 905.01 L900.0 905.95 L902.0 906.85 L904.0 907.72 L906.0 908.56 L908.0 909.37 L910.0 910.14 L912.0 910.89 L914.0 911.61 L916.0 912.29 L918.0 912.95 L920.0 913.58 L922.0 914.19 L924.0 914.77 L926.0 915.32 L928.0 915.85 L930.0 916.36 L932.0 916.84 L934.0 917.30 L936.0 917.74 L938.0 918.16 L940.0 918.56 L942.0 918.94 L944.0 919.31 L946.0 919.65 L948.0 919.98 L950.0 920.30 L952.0 920.60 L954.0 920.88 L956.0 921.15 L958.0 921.41 L960.0 921.66 L962.0 921.89 L964.0 922.12 L966.0 922.33 L968.0 922.54 L970.0 922.74 L972.0 922.93 L974.0 923.11 L976.0 923.29 L978.0 923.46 L980.0 923.62 L982.0 923.78 L984.0 923.93 L986.0 924.07 L988.0 924.20 L990.0 924.33 L992.0 924.46 L994.0 924.58 L996.0 924.69 L998.0 924.80 L1000.0 924.90 L1002.0 924.99 L1004.0 925.08 L1006.0 925.17 L1008.0 925.25 L1010.0 925.33 L1012.0 925.40 L1014.0 925.47 L1016.0 925.53 L1018.0 925.59 L1020.0 925.65 L1022.0 925.70 L1024.0 925.75 L1026.0 925.79 L1028.0 925.83 L1030.0 925.87 L1032.0 925.91 L1034.0 925.94 L1036.0 925.97 L1038.0 926.00 L1040.0 926.02 L1042.0 926.04 L1044.0 926.06 L1046.0 926.08 L1048.0 926.10 L1050.0 926.11 L1052.0 926.12 L1054.0 926.13 L1056.0 926.14 L1058.0 926.15 L1060.0 926.15 L1062.0 926.16 L1064.0 926.16 L1066.0 926.16 L1068.0 926.16 L1070.0 926.16 L1072.0 926.16 L1074.0 926.16 L1076.0 926.16 L1078.0 926.16 L1080.0 926.15 L1082.0 926.15 L1084.0 926.15 L1086.0 926.15 L1088.0 926.14 L1090.0 926.14 L1092.0 926.14 L1094.0 926.14 L1096.0 926.14 L1098.0 926.14 L1100.0 926.14 L1102.0 926.14 L1104.0 926.15 L1106.0 926.15 L1108.0 926.16 L1110.0 926.16 L1112.0 926.17 L1114.0 926.18 L1116.0 926.19 L1118.0 926.19 L1120.0 926.20 L1122.0 926.21 L1124.0 926.22 L1126.0 926.23 L1128.0 926.24 L1130.0 926.25 L1132.0 926.26 L1134.0 926.26 L1136.0 926.27 L1138.0 926.28 L1140.0 926.29 L1142.0 926.30 L1144.0 926.30 L1146.0 926.31 L1148.0 926.32 L1150.0 926.33 L1152.0 926.33 L1154.0 926.34 L1156.0 926.35 L1158.0 926.36 L1160.0 926.36 L1162.0 926.37 L1164.0 926.38 L1166.0 926.38 L1168.0 926.39 L1170.0 926.40 L1172.0 926.41 L1174.0 926.41 L1176.0 926.42 L1178.0 926.43 L1180.0 926.43 L1182.0 926.44 L1184.0 926.45 L1186.0 926.45 L1188.0 926.46 L1190.0 926.47 L1192.0 926.48 L1194.0 926.48 L1196.0 926.49 L1198.0 926.50 L1200.0 926.50 L1202.0 926.51 L1204.0 926.52 L1206.0 926.53 L1208.0 926.53 L1210.0 926.54 L1212.0 926.55 L1214.0 926.56 L1216.0 926.57 L1218.0 926.57 L1220.0 926.58 L1222.0 926.59 L1224.0 926.60 L1225.0 926.60"/>
<path class="c" stroke-dasharray="6.1 6.1" stroke-dashoffset="10.9" d="M28.0 924.60 L30.0 924.69 L32.0 924.79 L34.0 924.89 L36.0 924.98 L38.0 925.08 L40.0 925.17 L42.0 925.26 L44.0 925.35 L46.0 925.44 L48.0 925.53 L50.0 925.62 L52.0 925.70 L54.0 925.78 L56.0 925.86 L58.0 925.94 L60.0 926.01 L62.0 926.09 L64.0 926.16 L66.0 926.23 L68.0 926.29 L70.0 926.36 L72.0 926.42 L74.0 926.48 L76.0 926.53 L78.0 926.59 L80.0 926.64 L82.0 926.68 L84.0 926.73 L86.0 926.77 L88.0 926.80 L90.0 926.84 L92.0 926.87 L94.0 926.89 L96.0 926.92 L98.0 926.94 L100.0 926.95 L102.0 926.96 L104.0 926.97 L106.0 926.97 L108.0 926.97 L110.0 926.97 L112.0 926.96 L114.0 926.94 L116.0 926.92 L118.0 926.90 L120.0 926.87 L122.0 926.84 L124.0 926.80 L126.0 926.75 L128.0 926.69 L130.0 926.62 L132.0 926.54 L134.0 926.44 L136.0 926.32 L138.0 926.18 L140.0 926.02 L142.0 925.84 L144.0 925.63 L146.0 925.40 L148.0 925.14 L150.0 924.84 L152.0 924.52 L154.0 924.16 L156.0 923.77 L158.0 923.36 L160.0 922.91 L162.0 922.43 L164.0 921.92 L166.0 921.38 L168.0 920.81 L170.0 920.22 L172.0 919.60 L174.0 918.95 L176.0 918.27 L178.0 917.57 L180.0 916.84 L182.0 916.08 L184.0 915.30 L186.0 914.50 L188.0 913.67 L190.0 912.82 L192.0 911.94 L194.0 911.04 L196.0 910.12 L198.0 909.18 L200.0 908.21 L202.0 907.23 L204.0 906.22 L206.0 905.20 L208.0 904.15 L210.0 903.09 L212.0 902.01 L214.0 900.93 L216.0 899.89 L218.0 898.91 L220.0 898.01 L222.0 897.22 L224.0 896.50 L226.0 895.84 L228.0 895.20 L230.0 894.56 L232.0 893.89 L234.0 893.19 L236.0 892.44 L238.0 891.65 L240.0 890.80 L242.0 889.90 L244.0 888.93 L246.0 887.90 L248.0 886.79 L250.0 885.61 L252.0 884.34 L254.0 883.01 L256.0 881.63 L258.0 880.22 L260.0 878.79 L262.0 877.36 L264.0 875.95 L266.0 874.58 L268.0 873.25 L270.0 871.99 L272.0 870.81 L274.0 869.70 L276.0 868.64 L278.0 867.62 L280.0 866.63 L282.0 865.65 L284.0 864.66 L286.0 863.66 L288.0 862.62 L290.0 861.53 L292.0 860.39 L294.0 859.18 L296.0 857.92 L298.0 856.59 L300.0 855.22 L302.0 853.79 L304.0 852.30 L306.0 850.77 L308.0 849.19 L310.0 847.57 L312.0 845.90 L314.0 844.19 L316.0 842.44 L318.0 840.65 L320.0 838.82 L322.0 836.96 L324.0 835.07 L326.0 833.15 L328.0 831.19 L330.0 829.21 L332.0 827.21 L334.0 825.18 L336.0 823.12 L338.0 821.04 L340.0 818.94 L342.0 816.82 L344.0 814.67 L346.0 812.50 L348.0 810.31 L350.0 808.09 L352.0 805.86 L354.0 803.60 L356.0 801.33 L358.0 799.03 L360.0 796.72 L362.0 794.39 L364.0 792.04 L366.0 789.67 L368.0 787.28 L370.0 784.88 L372.0 782.46 L374.0 780.02 L376.0 777.57 L378.0 775.10 L380.0 772.61 L382.0 770.12 L384.0 767.60 L386.0 765.08 L388.0 762.54 L390.0 759.99 L392.0 757.42 L394.0 754.84 L396.0 752.26 L398.0 749.66 L400.0 747.05 L402.0 744.43 L404.0 741.79 L406.0 739.15 L408.0 736.51 L410.0 733.85 L412.0 731.18 L414.0 728.51 L416.0 725.83 L418.0 723.14 L420.0 720.44 L422.0 717.74 L424.0 715.03 L426.0 712.32 L428.0 709.61 L430.0 706.89 L432.0 704.17 L434.0 701.44 L436.0 698.71 L438.0 695.99 L440.0 693.26 L442.0 690.53 L444.0 687.80 L446.0 685.07 L448.0 682.34 L450.0 679.62 L452.0 676.90 L454.0 674.18 L456.0 671.46 L458.0 668.75 L460.0 666.05 L462.0 663.35 L464.0 660.65 L466.0 657.97 L468.0 655.29 L470.0 652.61 L472.0 649.95 L474.0 647.30 L476.0 644.65 L478.0 642.02 L480.0 639.39 L482.0 636.78 L484.0 634.18 L486.0 631.59 L488.0 629.02 L490.0 626.46 L492.0 623.91 L494.0 621.38 L496.0 618.86 L498.0 616.36 L500.0 613.88 L502.0 611.41 L504.0 608.97 L506.0 606.54 L508.0 604.12 L510.0 601.73 L512.0 599.36 L514.0 597.01 L516.0 594.69 L518.0 592.39 L520.0 590.12 L522.0 587.88 L524.0 585.67 L526.0 583.50 L528.0 581.36 L530.0 579.26 L532.0 577.21 L534.0 575.19 L536.0 573.22 L538.0 571.30 L540.0 569.43 L542.0 567.61 L544.0 565.84 L546.0 564.12 L548.0 562.46 L550.0 560.87 L552.0 559.33 L554.0 557.86 L556.0 556.45 L558.0 555.11 L560.0 553.84 L562.0 552.64 L564.0 551.51 L566.0 550.46 L568.0 549.47 L570.0 548.55 L572.0 547.69 L574.0 546.90 L576.0 546.16 L578.0 545.47 L580.0 544.84 L582.0 544.26 L584.0 543.73 L586.0 543.24 L588.0 542.79 L590.0 542.39 L592.0 542.03 L594.0 541.72 L596.0 541.50 L598.0 541.50 L600.0 541.50 L602.0 541.50 L604.0 541.50 L606.0 541.50 L608.0 541.50 L610.0 541.50 L612.0 541.50 L614.0 541.66 L616.0 542.00 L618.0 542.41 L620.0 542.94 L622.0 543.61 L624.0 544.48 L626.0 545.58 L628.0 546.88 L630.0 548.35 L632.0 549.96 L634.0 551.65 L636.0 553.40 L638.0 555.20 L640.0 557.05 L642.0 558.96 L644.0 560.92 L646.0 562.94 L648.0 565.03 L650.0 567.17 L652.0 569.38 L654.0 571.66 L656.0 574.00 L658.0 576.41 L660.0 578.90 L662.0 581.45 L664.0 584.09 L666.0 586.80 L668.0 589.58 L670.0 592.45 L672.0 595.40 L674.0 598.44 L676.0 601.56 L678.0 604.76 L680.0 608.05 L682.0 611.40 L684.0 614.83 L686.0 618.31 L688.0 621.85 L690.0 625.45 L692.0 629.09 L694.0 632.77 L696.0 636.49 L698.0 640.24 L700.0 644.01 L702.0 647.81 L704.0 651.62 L706.0 655.45 L708.0 659.30 L710.0 663.17 L712.0 667.05 L714.0 670.94 L716.0 674.85 L718.0 678.76 L720.0 682.69 L722.0 686.63 L724.0 690.57 L726.0 694.52 L728.0 698.47 L730.0 702.43 L732.0 706.40 L734.0 710.36 L736.0 714.32 L738.0 718.28 L740.0 722.24 L742.0 726.19 L744.0 730.13 L746.0 734.06 L748.0 737.98 L750.0 741.88 L752.0 745.77 L754.0 749.64 L756.0 753.49 L758.0 757.32 L760.0 761.12 L762.0 764.90 L764.0 768.66 L766.0 772.38 L768.0 776.07 L770.0 779.73 L772.0 783.36 L774.0 786.95 L776.0 790.50 L778.0 794.00 L780.0 797.47 L782.0 800.89 L784.0 804.27 L786.0 807.60 L788.0 810.87 L790.0 814.10 L792.0 817.27 L794.0 820.39 L796.0 823.44 L798.0 826.44 L800.0 829.38 L802.0 832.26 L804.0 835.08 L806.0 837.84 L808.0 840.54 L810.0 843.18 L812.0 845.76 L814.0 848.29 L816.0 850.77 L818.0 853.19 L820.0 855.55 L822.0 857.86 L824.0 860.12 L826.0 862.32 L828.0 864.47 L830.0 866.57 L832.0 868.62 L834.0 870.62 L836.0 872.57 L838.0 874.48 L840.0 876.33 L842.0 878.14 L844.0 879.90 L846.0 881.61 L848.0 883.28 L850.0 884.90 L852.0 886.48 L854.0 888.02 L856.0 889.51 L858.0 890.97 L860.0 892.38 L862.0 893.74 L864.0 895.07 L866.0 896.36 L868.0 897.61 L870.0 898.83 L872.0 900.00 L874.0 901.14 L876.0 902.24 L878.0 903.30 L880.0 904.33 L882.0 905.33 L884.0 906.29 L886.0 907.22 L888.0 908.12 L890.0 908.98 L892.0 909.82 L894.0 910.62 L896.0 911.40 L898.0 912.14 L900.0 912.86 L902.0 913.55 L904.0 914.21 L906.0 914.84 L908.0 915.45 L910.0 916.03 L912.0 916.59 L914.0 917.13 L916.0 917.64 L918.0 918.13 L920.0 918.59 L922.0 919.04 L924.0 919.47 L926.0 919.87 L928.0 920.26 L930.0 920.62 L932.0 920.97 L934.0 921.30 L936.0 921.62 L938.0 921.91 L940.0 922.20 L942.0 922.46 L944.0 922.72 L946.0 922.96 L948.0 923.19 L950.0 923.40 L952.0 923.60 L954.0 923.80 L956.0 923.98 L958.0 924.15 L960.0 924.31 L962.0 924.47 L964.0 924.62 L966.0 924.75 L968.0 924.89 L970.0 925.01 L972.0 925.12 L974.0 925.23 L976.0 925.34 L978.0 925.43 L980.0 925.52 L982.0 925.60 L984.0 925.68 L986.0 925.75 L988.0 925.81 L990.0 925.87 L992.0 925.93 L994.0 925.98 L996.0 926.02 L998.0 926.06 L1000.0 926.09 L1002.0 926.12 L1004.0 926.15 L1006.0 926.17 L1008.0 926.19 L1010.0 926.20 L1012.0 926.21 L1014.0 926.22 L1016.0 926.23 L1018.0 926.23 L1020.0 926.23 L1022.0 926.23 L1024.0 926.22 L1026.0 926.22 L1028.0 926.21 L1030.0 926.20 L1032.0 926.19 L1034.0 926.17 L1036.0 926.16 L1038.0 926.15 L1040.0 926.13 L1042.0 926.12 L1044.0 926.10 L1046.0 926.09 L1048.0 926.07 L1050.0 926.06 L1052.0 926.05 L1054.0 926.03 L1056.0 926.02 L1058.0 926.01 L1060.0 926.00 L1062.0 925.99 L1064.0 925.99 L1066.0 925.99 L1068.0 925.98 L1070.0 925.98 L1072.0 925.99 L1074.0 925.99 L1076.0 926.00 L1078.0 926.00 L1080.0 926.01 L1082.0 926.02 L1084.0 926.03 L1086.0 926.04 L1088.0 926.05 L1090.0 926.07 L1092.0 926.08 L1094.0 926.10 L1096.0 926.11 L1098.0 926.13 L1100.0 926.14 L1102.0 926.16 L1104.0 926.18 L1106.0 926.19 L1108.0 926.21 L1110.0 926.22 L1112.0 926.24 L1114.0 926.26 L1116.0 926.27 L1118.0 926.29 L1120.0 926.30 L1122.0 926.31 L1124.0 926.32 L1126.0 926.34 L1128.0 926.35 L1130.0 926.36 L1132.0 926.36 L1134.0 926.37 L1136.0 926.38 L1138.0 926.38 L1140.0 926.39 L1142.0 926.40 L1144.0 926.40 L1146.0 926.40 L1148.0 926.41 L1150.0 926.41 L1152.0 926.41 L1154.0 926.41 L1156.0 926.42 L1158.0 926.42 L1160.0 926.42 L1162.0 926.42 L1164.0 926.42 L1166.0 926.42 L1168.0 926.42 L1170.0 926.42 L1172.0 926.43 L1174.0 926.43 L1176.0 926.43 L1178.0 926.43 L1180.0 926.43 L1182.0 926.43 L1184.0 926.44 L1186.0 926.44 L1188.0 926.44 L1190.0 926.45 L1192.0 926.45 L1194.0 926.46 L1196.0 926.46 L1198.0 926.47 L1200.0 926.47 L1202.0 926.48 L1204.0 926.49 L1206.0 926.50 L1208.0 926.51 L1210.0 926.52 L1212.0 926.53 L1214.0 926.54 L1216.0 926.56 L1218.0 926.57 L1220.0 926.59 L1222.0 926.61 L1224.0 926.63 L1225.0 926.64"/>
<text class="lb" x="81" y="568.4">SCX-UPLC</text>
<text class="b b2" x="397.7" y="563.6">Less basic</text>
<path class="ar" d="M506.4 574.8H364.7"/><path class="ah" d="M376.2 567.7L363.7 574.8L376.2 581.9"/>
<text class="b b2" x="691.7" y="563.6">More basic</text>
<path class="ar" d="M691.9 574.8H834.7"/><path class="ah" d="M823.2 567.7L835.7 574.8L823.2 581.9"/>
</g>
</svg>
</body>
</html>
